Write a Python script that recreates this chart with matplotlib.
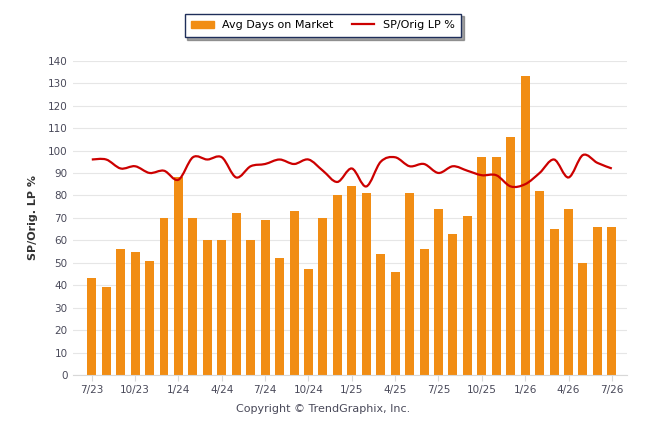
import numpy as np
import matplotlib.pyplot as plt
from matplotlib.path import Path
from matplotlib.patches import PathPatch, Patch
from matplotlib.lines import Line2D

# Datos (julio 2023 - julio 2026)
meses = ["7/23", "8/23", "9/23", "10/23", "11/23", "12/23", "1/24", "2/24", "3/24",
         "4/24", "5/24", "6/24", "7/24", "8/24", "9/24", "10/24", "11/24", "12/24",
         "1/25", "2/25", "3/25", "4/25", "5/25", "6/25", "7/25", "8/25", "9/25",
         "10/25", "11/25", "12/25", "1/26", "2/26", "3/26", "4/26", "5/26", "6/26", "7/26"]
dias_mercado = [43, 39, 56, 55, 51, 70, 88, 70, 60, 60, 72, 60, 69, 52, 73, 47, 70, 80,
                84, 81, 54, 46, 81, 56, 74, 63, 71, 97, 97, 106, 133, 82, 65, 74, 50, 66, 66]
sp_orig_lp = [96, 96, 92, 93, 90, 91, 87, 97, 96, 97, 88, 93, 94, 96, 94, 96, 91, 86,
              92, 84, 95, 97, 93, 94, 90, 93, 91, 89, 89, 84, 85, 90, 96, 88, 98, 94.5, 92]
etiquetas = meses[::3]

naranja = "#F18D14"
rojo = "#CC0000"
gris_txt = "#4a4a5a"

fig = plt.figure(figsize=(6.46, 4.34), dpi=100)
ax = fig.add_axes([0.113, 0.136, 0.8576, 0.724])

x = np.arange(len(meses))
ax.bar(x, dias_mercado, width=0.62, color=naranja, zorder=2)

# curva suavizada (Catmull-Rom -> Bezier) solo para el trazo
y = np.array(sp_orig_lp, dtype=float)
verts = [(x[0], y[0])]
codes = [Path.MOVETO]
for i in range(len(x) - 1):
    p0 = (x[max(i - 1, 0)], y[max(i - 1, 0)])
    p1 = (x[i], y[i])
    p2 = (x[i + 1], y[i + 1])
    p3 = (x[min(i + 2, len(x) - 1)], y[min(i + 2, len(x) - 1)])
    c1 = (p1[0] + (p2[0] - p0[0]) / 6, p1[1] + (p2[1] - p0[1]) / 6)
    c2 = (p2[0] - (p3[0] - p1[0]) / 6, p2[1] - (p3[1] - p1[1]) / 6)
    verts += [c1, c2, p2]
    codes += [Path.CURVE4] * 3
ax.add_patch(PathPatch(Path(verts, codes), facecolor="none", edgecolor=rojo, lw=1.6, zorder=3))

ax.set_xlim(-1.3, 37.05)
ax.set_ylim(0, 140)
ax.set_yticks(range(0, 141, 10))
ax.set_xticks(x[::3])
ax.set_xticklabels(etiquetas)
ax.grid(axis="y", color="#e6e6e6", lw=0.8, zorder=0)
for s in ["top", "right", "left"]:
    ax.spines[s].set_visible(False)
ax.spines["bottom"].set_color("#d8d8d8")
ax.tick_params(axis="y", length=0, labelsize=7.5, labelcolor=gris_txt, pad=4)
ax.tick_params(axis="x", length=4, color="#d8d8d8", labelsize=7.5, labelcolor=gris_txt, pad=3)
ax.set_ylabel("SP/Orig. LP %", fontsize=8, fontweight="bold", color="#333333", labelpad=7)

handles = [Patch(color=naranja), Line2D([], [], color=rojo, lw=1.6)]
leg = fig.legend(handles, ["Avg Days on Market", "SP/Orig LP %"], loc="center",
                 bbox_to_anchor=(0.5, 0.942), ncol=2, fontsize=8, frameon=True,
                 fancybox=False, shadow=True, handlelength=2.0, handleheight=0.6,
                 columnspacing=1.6, borderpad=0.6)
leg.get_frame().set_edgecolor("#1f2f5a")
leg.get_frame().set_linewidth(1.0)

fig.text(0.5, 0.058, "Copyright © TrendGraphix, Inc.", ha="center", va="center",
         fontsize=8, color=gris_txt)

fig.savefig("out.png", dpi=100)
